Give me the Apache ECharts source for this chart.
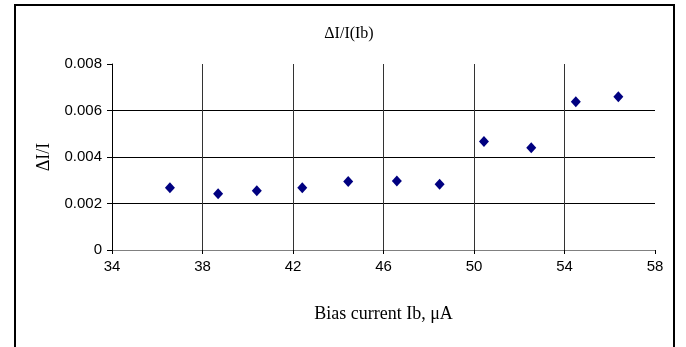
<!DOCTYPE html>
<html>
<head>
<meta charset="utf-8">
<script src="https://cdn.jsdelivr.net/npm/echarts@6/dist/echarts.min.js"></script>
<style>
  html, body { margin: 0; padding: 0; background: #fff; }
  #chart { width: 686px; height: 347px; }
</style>
</head>
<body>
<div id="chart"></div>
<script>
// bias current Ib (uA) and relative change dI/I
const biasCurrent = [36.56, 38.69, 40.40, 42.41, 44.44, 46.59, 48.48, 50.44, 52.53, 54.50, 56.38];
const deltaRatio = [0.00268, 0.00242, 0.00255, 0.00268, 0.00295, 0.00297, 0.00283, 0.00467, 0.00440, 0.00638, 0.00659];

const xTicks = { min: 34, max: 58, interval: 4 };
const yTicks = { min: 0, max: 0.008, interval: 0.002 };

const points = biasCurrent.map((x, i) => [x, deltaRatio[i]]);

const chart = echarts.init(document.getElementById('chart'));
chart.setOption({
  animation: false,
  title: {
    text: 'ΔI/I(Ib)',
    left: 344,
    top: 21,
    textAlign: 'center',
    textStyle: { fontFamily: 'Liberation Serif', fontSize: 16, fontWeight: 'normal', color: '#000' }
  },
  graphic: [{
    type: 'rect',
    shape: { x: 15, y: 5, width: 659, height: 400 },
    style: { fill: 'none', stroke: '#000', lineWidth: 2 },
    silent: true
  }],
  grid: { left: 112, right: 31, top: 64, bottom: 97 },
  xAxis: {
    type: 'value',
    min: xTicks.min,
    max: xTicks.max,
    interval: xTicks.interval,
    name: 'Bias current Ib, μA',
    nameLocation: 'middle',
    nameGap: 55,
    nameTextStyle: { fontFamily: 'Liberation Serif', fontSize: 18, color: '#000' },
    axisLine: { lineStyle: { color: '#808080', width: 1 } },
    axisTick: { length: 4, lineStyle: { color: '#000' } },
    axisLabel: { margin: 9, fontFamily: 'Liberation Sans', fontSize: 15, color: '#000' },
    splitLine: {
      show: true,
      lineStyle: { color: ['transparent', '#333', '#333', '#333', '#333', '#333', 'transparent'], width: 1 }
    }
  },
  yAxis: {
    type: 'value',
    min: yTicks.min,
    max: yTicks.max,
    interval: yTicks.interval,
    name: 'ΔI/I',
    nameLocation: 'middle',
    nameGap: 59,
    nameTextStyle: { fontFamily: 'Liberation Serif', fontSize: 18, color: '#000' },
    axisLine: { show: true, lineStyle: { color: '#000', width: 1 } },
    axisTick: { show: true, length: 5, lineStyle: { color: '#000' } },
    axisLabel: { margin: 10, fontFamily: 'Liberation Sans', fontSize: 15, color: '#000' },
    splitLine: {
      show: true,
      lineStyle: { color: ['#808080', '#000', '#000', '#000', 'transparent'], width: 1 }
    }
  },
  series: [{
    type: 'scatter',
    data: points,
    symbol: 'diamond',
    symbolSize: [10, 11],
    itemStyle: { color: '#000080', opacity: 1 }
  }]
});
</script>
</body>
</html>
